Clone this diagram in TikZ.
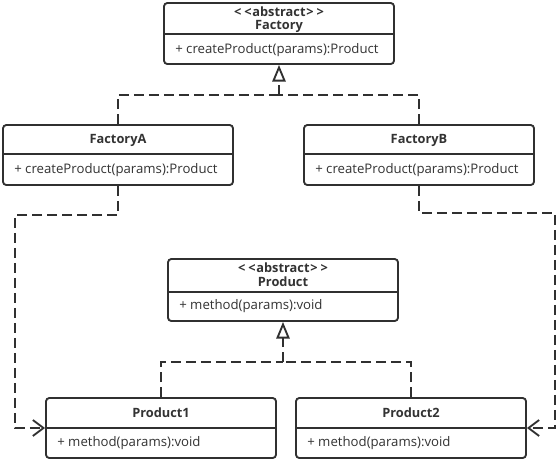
\documentclass[tikz,border=0pt]{standalone}
\usepackage{fontspec}
\setmainfont{Open Sans}
\usetikzlibrary{arrows.meta}
\definecolor{ln}{HTML}{303030}
\definecolor{tx}{HTML}{333333}
\newcommand{\stereo}[1]{{<}\kern2.2pt{<}\kern0.6pt#1\kern0.6pt{>}\kern2.2pt{>}}
\tikzset{
  px/.style={x=0.75pt,y=-0.75pt},
  classbox/.style={draw=ln,line width=1.4pt,rounded corners=2.5pt,minimum width=172.5pt,inner sep=0pt,fill=white},
  title/.style={text=tx,font=\fontsize{9.6}{10}\selectfont\bfseries,inner sep=0pt},
  member/.style={text=tx,font=\fontsize{9.9}{10}\selectfont,inner sep=0pt,anchor=west},
  divider/.style={draw=ln,line width=1.4pt},
  dashline/.style={draw=ln,line width=1.5pt,dash pattern=on 7.5pt off 3.75pt},
  inherit/.style={dashline,-{Triangle[open,length=12.5pt,width=10pt,line width=1.4pt]}},
  depend/.style={dashline,-{Straight Barb[length=8pt,width=12pt,line width=1.4pt]}},
}
\begin{document}
\begin{tikzpicture}[px]
\useasboundingbox (0,0) rectangle (560,461);
% Factory
\node[classbox,minimum height=45.75pt] (factory) at (279,33.5) {};
\draw[divider] (164,34) -- (394,34);
\node[title] (factoryst) at (279,12) {\stereo{abstract}};
\node[title] (factoryt) at (279,26) {Factory};
\node[member] (factorym) at (175,50) {+ createProduct(params):Product};
% FactoryA
\node[classbox,minimum height=45pt] (fa) at (118,155) {};
\draw[divider] (3,154) -- (233,154);
\node[title] (fat) at (118,140) {FactoryA};
\node[member] (fam) at (14,170) {+ createProduct(params):Product};
% FactoryB
\node[classbox,minimum height=45pt] (fb) at (419,155) {};
\draw[divider] (304,154) -- (534,154);
\node[title] (fbt) at (419,140) {FactoryB};
\node[member] (fbm) at (315,170) {+ createProduct(params):Product};
% Product
\node[classbox,minimum height=46.5pt] (product) at (283,290) {};
\draw[divider] (168,292) -- (398,292);
\node[title] (productst) at (283,268) {\stereo{abstract}};
\node[title] (productt) at (283,282) {Product};
\node[member] (productm) at (179,306) {+ method(params):void};
% Product1
\node[classbox,minimum height=45pt] (p1) at (161,428) {};
\draw[divider] (46,428) -- (276,428);
\node[title] (p1t) at (161,413) {Product1};
\node[member] (p1m) at (57,443) {+ method(params):void};
% Product2
\node[classbox,minimum height=45pt] (p2) at (411,428) {};
\draw[divider] (296,428) -- (526,428);
\node[title] (p2t) at (411,413) {Product2};
\node[member] (p2m) at (307,443) {+ method(params):void};
% junctions
\coordinate (j1) at (279,95);
\coordinate (j2) at (283,362);
\coordinate (ca) at (15,215);
\coordinate (cb) at (555,213);
% inheritance factories
\draw[dashline] (fa.north) |- (j1);
\draw[dashline] (fb.north) |- (j1);
\draw[inherit] (j1) -- (factory.south);
% inheritance products
\draw[dashline] (p1.north) |- (j2);
\draw[dashline] (p2.north) |- (j2);
\draw[inherit] (j2) -- (product.south);
% dependencies
\draw[depend] (fa.south) |- (ca) |- (p1.west);
\draw[depend] (fb.south) |- (cb) |- (p2.east);
\end{tikzpicture}
\end{document}
